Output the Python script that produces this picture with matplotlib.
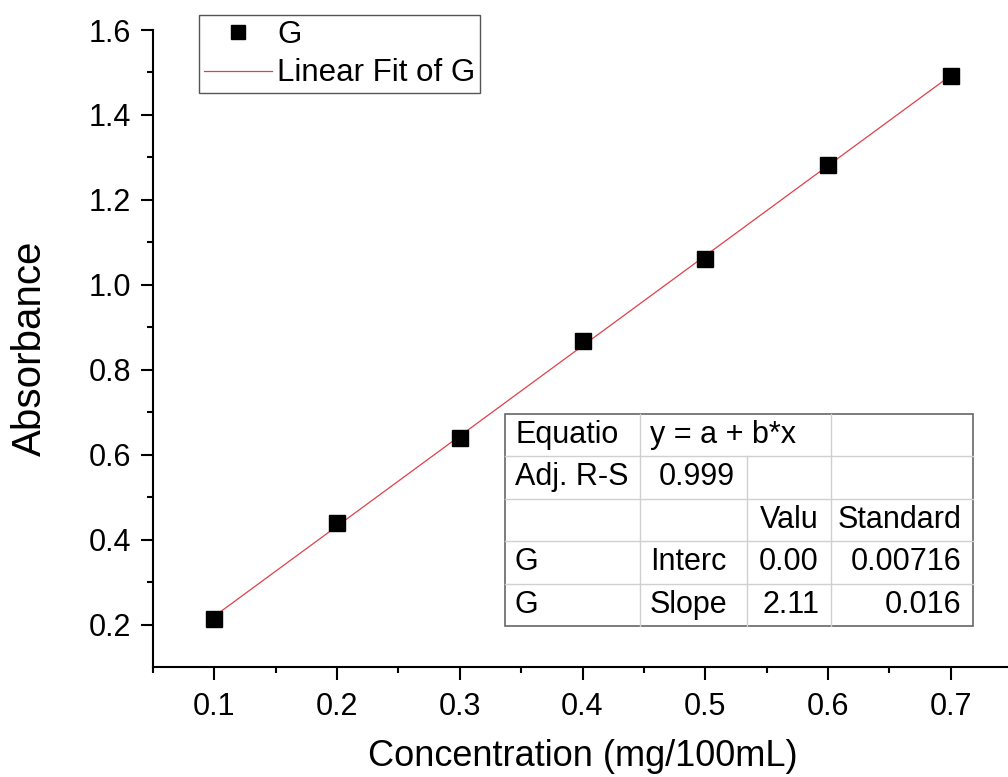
import numpy as np
import matplotlib
matplotlib.use('Agg')
import matplotlib.pyplot as plt
from matplotlib.lines import Line2D

plt.rcParams['font.family'] = ['Liberation Sans', 'DejaVu Sans']

# data
concentration = [0.1, 0.2, 0.3, 0.4, 0.5, 0.6, 0.7]
absorbance = [0.213, 0.440, 0.639, 0.867, 1.061, 1.281, 1.492]
series_name = 'G'
fit_label = 'Linear Fit of G'
x_ticks = [0.1, 0.2, 0.3, 0.4, 0.5, 0.6, 0.7]
y_ticks = [0.2, 0.4, 0.6, 0.8, 1.0, 1.2, 1.4, 1.6]

# fit results table (as printed on the chart)
table_rows = [
    ['Equatio', 'y = a + b*x', '', ''],
    ['Adj. R-S', '0.999', '', ''],
    ['', '', 'Valu', 'Standard'],
    ['G', 'Interc', '0.00', '0.00716'],
    ['G', 'Slope', '2.11', '0.016'],
]

slope, intercept = np.polyfit(concentration, absorbance, 1)
x_fit = np.array([concentration[0], concentration[-1]])
y_fit = intercept + slope * x_fit

W, H = 1008, 777
fig = plt.figure(figsize=(W / 100, H / 100), dpi=100)
ax = fig.add_axes([153 / W, 110 / H, (1012 - 153) / W, (667 - 30) / H])

red = '#e0404a'
ax.plot(x_fit, y_fit, color=red, lw=0.9, label=fit_label, zorder=2)
ax.plot(concentration, absorbance, 's', color='black', ms=11,
        label=series_name, zorder=3)

ax.set_xlim(0.05, 0.75)
ax.set_ylim(0.1, 1.6)
ax.set_xticks(x_ticks)
ax.set_xticks(np.arange(0.05, 0.751, 0.1), minor=True)
ax.set_yticks(y_ticks)
ax.set_yticks(np.arange(0.3, 1.51, 0.2), minor=True)
ax.xaxis.set_major_formatter(plt.FormatStrFormatter('%.1f'))
ax.yaxis.set_major_formatter(plt.FormatStrFormatter('%.1f'))

for s in ['top', 'right']:
    ax.spines[s].set_visible(False)
for s in ['left', 'bottom']:
    ax.spines[s].set_linewidth(1.5)
ax.tick_params(which='major', length=9, width=1.5, direction='out')
ax.tick_params(which='minor', length=4.5, width=1.5, direction='out')
ax.tick_params(axis='x', which='major', pad=9)
ax.tick_params(axis='y', which='major', pad=7)
ax.tick_params(which='major', labelsize=22)

ax.set_xlabel('Concentration (mg/100mL)', fontsize=26, va='center')
ax.xaxis.set_label_coords(0.5, -(757 - 667) / 637)
ax.set_ylabel('Absorbance', fontsize=29, va='center')
ax.yaxis.set_label_coords(-(153 - 30) / 859, 0.5)

# legend, partly above the plot area
handles = [Line2D([], [], ls='none', marker='s', color='black', ms=10),
           Line2D([], [], color=red, lw=0.9)]
leg = fig.legend(handles, [series_name, fit_label], loc='upper left',
                 bbox_to_anchor=(199 / W, 1 - 15 / H), fontsize=22.5,
                 frameon=True, fancybox=False, edgecolor='#555555',
                 framealpha=1, borderpad=0.15, labelspacing=0.28,
                 handlelength=2.2, handletextpad=0.15, borderaxespad=0)
leg.get_frame().set_linewidth(1.0)

# fit table drawn in figure pixels
col_x = [505, 640, 747, 831, 973]
row_y = [414, 456, 499, 541, 584, 626]


def fx(px):
    return px / W


def fy(py):
    return 1 - py / H


grid_c = '#d0d0d0'
for yy in row_y[1:-1]:
    fig.add_artist(Line2D([fx(col_x[0]), fx(col_x[-1])], [fy(yy), fy(yy)],
                          color=grid_c, lw=1))
for i, xx in enumerate(col_x[1:-1], start=1):
    top = row_y[0] if i != 2 else row_y[1]
    fig.add_artist(Line2D([fx(xx), fx(xx)], [fy(top), fy(row_y[-1])],
                          color=grid_c, lw=1))
fig.add_artist(plt.Rectangle((fx(col_x[0]), fy(row_y[-1])),
                             fx(col_x[-1]) - fx(col_x[0]),
                             fy(row_y[0]) - fy(row_y[-1]),
                             fill=False, edgecolor='#666666', lw=1.2,
                             transform=fig.transFigure))

for r, row in enumerate(table_rows):
    yc = fy((row_y[r] + row_y[r + 1]) / 2)
    for c, txt in enumerate(row):
        if not txt:
            continue
        if c == 0 or (c == 1 and r in (0, 3, 4)):
            fig.text(fx(col_x[c] + 10), yc, txt, ha='left', va='center',
                     fontsize=22)
        else:
            fig.text(fx(col_x[c + 1] - 12), yc, txt, ha='right', va='center',
                     fontsize=22)

fig.savefig('out.png', dpi=100)
